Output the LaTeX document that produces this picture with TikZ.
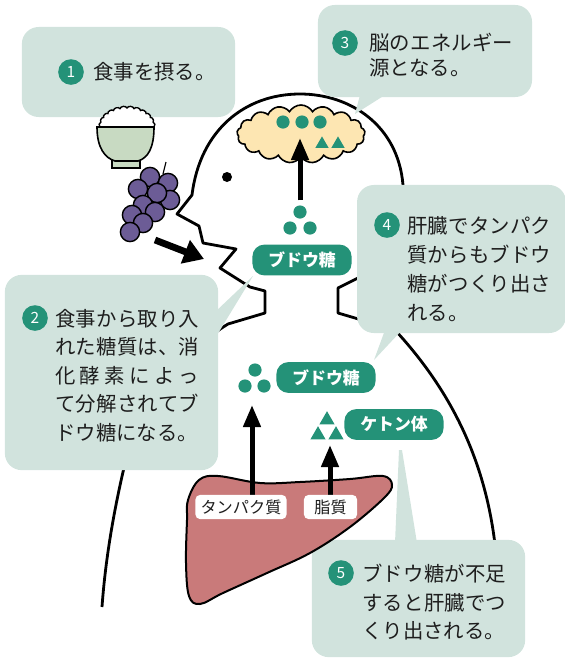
\documentclass[tikz,border=0pt]{standalone}
\usepackage{fontspec}
\setmainfont{Noto Sans CJK JP}
\usetikzlibrary{arrows.meta, shapes.geometric, shapes.symbols}
\definecolor{GlTeal}{RGB}{36,146,120}
\definecolor{GlBubble}{RGB}{209,227,221}
\definecolor{GlBrain}{RGB}{253,230,178}
\definecolor{GlLiver}{RGB}{201,122,122}
\definecolor{GlGrape}{RGB}{108,92,150}
\definecolor{GlBowl}{RGB}{200,218,194}
\definecolor{GlInk}{RGB}{30,30,30}

% justified caption lines
\newlength\linew
\setlength\linew{3.6cm}
\def\spreadchars#1#2\relax{#1\ifx\relax#2\relax\else\hfill\spreadchars#2\relax\fi}
\newcommand\spread[1]{\makebox[\linew]{\spreadchars#1\relax}}

\begin{document}
\begin{tikzpicture}[x=0.025cm, y=-0.025cm,
    outline/.style={line width=0.07cm, line join=round},
    bubble/.style={rectangle, rounded corners=0.42cm, fill=GlBubble, inner sep=0pt},
    badge/.style={circle, fill=GlTeal, text=white, inner sep=0pt,
                  minimum size=0.64cm, font=\fontsize{11}{11}\selectfont},
    say/.style={anchor=north west, inner sep=0pt, align=left, text=GlInk},
    tag/.style={rectangle, rounded corners=0.3cm, fill=GlTeal, text=white,
                minimum width=2.48cm, minimum height=0.77cm,
                font=\fontsize{12}{12}\selectfont\bfseries},
    plate/.style={rectangle, rounded corners=0.12cm, fill=white, text=GlInk,
                  minimum height=0.55cm, inner xsep=0.05cm,
                  font=\fontsize{11.5}{11.5}\selectfont},
    dot/.style={circle, fill=GlTeal, inner sep=0pt, minimum size=0.33cm},
    tri/.style={regular polygon, regular polygon sides=3, fill=GlTeal,
                inner sep=0pt, minimum size=0.44cm},
    uparrow/.style={line width=0.125cm, -{Triangle[length=0.55cm, width=0.42cm]}}
  ]
  \useasboundingbox (0,0) rectangle (565,659);

  % person
  \draw[outline] (497,565) .. controls (490,470) and (455,395) .. (395,330)
    -- (355,318) -- (338,313) -- (338,288) -- (362,276)
    .. controls (398,255) and (408,215) .. (403,185)
    .. controls (398,125) and (350,94) .. (300,94)
    .. controls (245,94) and (200,130) .. (192,195)
    -- (177,214) -- (199,226) -- (203,243) -- (236,249) -- (220,268)
    -- (250,287) -- (265,291) -- (265,313) -- (228,324)
    .. controls (170,360) and (135,420) .. (123,472)
    .. controls (112,520) and (105,565) .. (102,607);
  \node[circle, fill=black, inner sep=0pt, minimum size=0.25cm] (eye) at (227,177) {};

  % speech bubbles
  \node[bubble, minimum width=5.33cm, minimum height=2.25cm] (b1) at (128.5,72) {};
  \node[bubble, minimum width=5.35cm, minimum height=2.3cm] (b3) at (425,51) {};
  \fill[GlBubble] (360,95) -- (385,95) -- (355,114) -- cycle;
  \node[bubble, minimum width=5.22cm, minimum height=3.7cm] (b4) at (461.5,259) {};
  \fill[GlBubble] (385,330) -- (402,330) -- (374,360) -- cycle;
  \node[bubble, minimum width=5.33cm, minimum height=4.88cm] (b2) at (111.5,372.5) {};
  \fill[GlBubble] (214,313) -- (214,340) -- (253,276) -- cycle;
  \node[bubble, minimum width=5.33cm, minimum height=2.93cm] (b5) at (418.5,598.5) {};
  \fill[GlBubble] (395,543) -- (417,543) -- (402,450) -- (399,450) -- cycle;

  % brain
  \node[cloud, cloud puffs=17, cloud puff arc=120, aspect=2.3, draw=black,
        fill=GlBrain, line width=0.04cm, minimum width=3.2cm,
        minimum height=1.45cm] (brain) at (301,134) {};
  \foreach \x [count=\i] in {283,302,320}
    \node[dot] (bd\i) at (\x,122) {};
  \node[tri, minimum size=0.38cm] (bt1) at (322,144) {};
  \node[tri, minimum size=0.38cm] (bt2) at (338,144) {};

  % rice bowl
  \draw[line width=0.035cm, fill=white] (100,127)
    \foreach \a in {165,150,...,15} { to[bend left=70] ({127+27*cos(\a)},{127-19*sin(\a)}) }
    to[bend left=70] (154,127) -- cycle;
  \draw[line width=0.04cm, fill=GlBowl] (112,158) rectangle (140,168);
  \draw[line width=0.04cm, fill=GlBowl] (97,127) -- (154,127)
    .. controls (154,148) and (148,158) .. (138,161) -- (115,161)
    .. controls (105,158) and (97,148) .. (97,127) -- cycle;

  % grapes
  \draw[line width=0.03cm] (166,162) -- (163,174);
  \foreach \x/\y in {150/177, 168/183, 138/189, 170/200, 157/193, 143/205,
                     155/212, 132/215, 143/223, 130/232}
    \filldraw[fill=GlGrape, draw=black, line width=0.035cm] (\x,\y) circle[radius=0.24cm];

  % eating arrow
  \coordinate (eat) at (155,240);
  \coordinate (mouth) at (204,259);
  \draw[line width=0.17cm, -{Triangle[length=0.5cm, width=0.6cm]}] (eat) -- (mouth);

  % glucose to the brain
  \node[dot] (g1a) at (300,212) {};
  \node[dot] (g1b) at (290,228) {};
  \node[dot] (g1c) at (310,228) {};
  \coordinate (brainin) at (300,138);
  \draw[uparrow, shorten <=0.12cm] (g1a) -- (brainin);
  \node[tag] (glc1) at (302,260) {ブドウ糖};

  % glucose and ketones from the liver
  \node[dot] (g2a) at (255,370) {};
  \node[dot] (g2b) at (245,386) {};
  \node[dot] (g2c) at (264,386) {};
  \node[tag] (glc2) at (326,377.5) {ブドウ糖};
  \node[tri] (k1) at (327,420) {};
  \node[tri] (k2) at (318,435) {};
  \node[tri] (k3) at (336,435) {};
  \node[tag] (keto) at (394,424.5) {ケトン体};

  % liver
  \draw[line width=0.05cm, fill=GlLiver] plot[smooth cycle, tension=0.6] coordinates {
    (188,500) (199,480) (218,476) (260,483) (300,482) (350,479) (383,476)
    (392,485) (384,498) (350,527) (310,553) (267,573) (223,593) (200,604)
    (189,596) (186,563) (187,520)};
  \coordinate (pbase) at (252,505);
  \coordinate (fbase) at (330,505);
  \coordinate (g2up) at (252,405);
  \coordinate (kup) at (330,445);
  \draw[uparrow] (pbase) -- (g2up);
  \draw[uparrow] (fbase) -- (kup);
  \node[plate, minimum width=2.28cm] (protein) at (241,507) {タンパク質};
  \node[plate, minimum width=1.33cm] (fat) at (330.5,507) {脂質};

  % captions
  \node[badge] (n1) at (71,72) {1};
  \node[anchor=west, inner sep=0pt, text=GlInk, font=\fontsize{14.5}{20}\selectfont]
    (t1) at (93,72) {食事を摂る。};

  \node[badge] (n3) at (345,43) {3};
  \node[say, font=\fontsize{14.5}{17.7}\selectfont] (t3) at (369,33)
    {\spread{脳のエネルギー}\\源となる。};

  \node[badge] (n4) at (387,225) {4};
  \node[say, font=\fontsize{14.5}{20.6}\selectfont] (t4) at (407,216)
    {\spread{肝臓でタンパク}\\\spread{質からもブドウ}\\\spread{糖がつくり出さ}\\れる。};

  \node[badge] (n2) at (35,318) {2};
  \node[say, font=\fontsize{14.5}{20.2}\selectfont] (t2) at (55,309)
    {\spread{食事から取り入}\\\spread{れた糖質は、消}\\\spread{化酵素によっ}\\
     \spread{て分解されてブ}\\ドウ糖になる。};

  \node[badge] (n5) at (341,573) {5};
  \node[say, font=\fontsize{14.5}{20.2}\selectfont] (t5) at (362,564)
    {\spread{ブドウ糖が不足}\\\spread{すると肝臓でつ}\\くり出される。};
\end{tikzpicture}
\end{document}
